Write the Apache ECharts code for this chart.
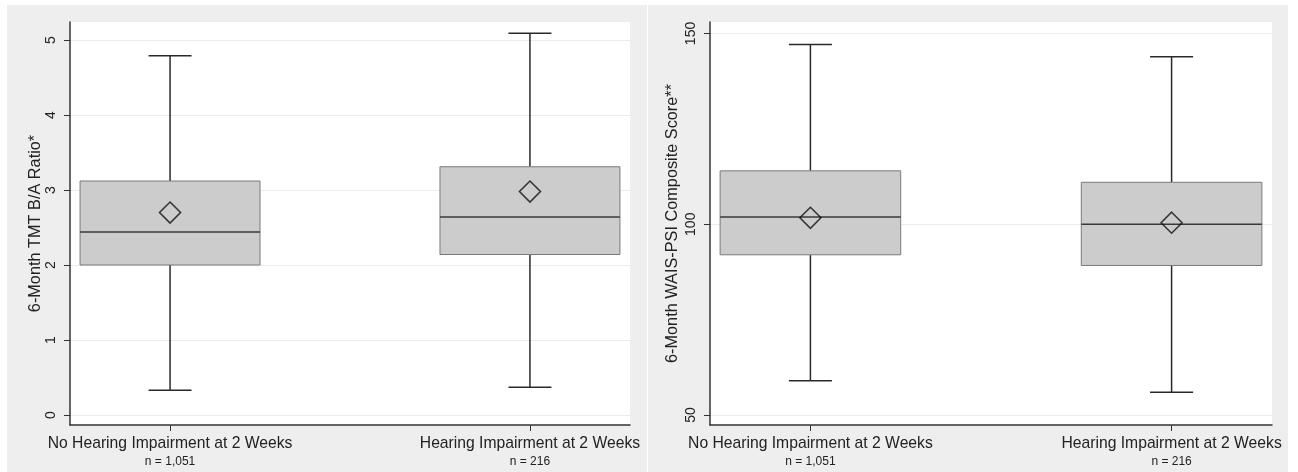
<!DOCTYPE html>
<html>
<head>
<meta charset="utf-8">
<script src="https://cdn.jsdelivr.net/npm/echarts@6/dist/echarts.min.js"></script>
<style>
html, body { margin: 0; padding: 0; background: #ffffff; }
#chart { width: 1298px; height: 472px; }
</style>
</head>
<body>
<div id="chart"></div>
<script>
// groups on the x axis (0 = no impairment, 1 = impairment)
var groups = ['No Hearing Impairment at 2 Weeks', 'Hearing Impairment at 2 Weeks'];
var groupN = ['n = 1,051', 'n = 216'];
var groupPos = [0, 1];

// left panel: 6-month TMT B/A ratio
var tmtMin = [0.33, 0.37];
var tmtQ1 = [2.00, 2.14];
var tmtMedian = [2.44, 2.64];
var tmtQ3 = [3.12, 3.31];
var tmtMax = [4.79, 5.09];
var tmtMean = [2.70, 2.98];
var tmtTicks = [0, 1, 2, 3, 4, 5];

// right panel: 6-month WAIS-PSI composite score
var waisMin = [59, 56];
var waisQ1 = [92, 89.2];
var waisMedian = [101.9, 100];
var waisQ3 = [114, 111];
var waisMax = [147.1, 143.9];
var waisMean = [101.7, 100.4];
var waisTicks = [50, 100, 150];

var textColor = '#222';
var boxFill = '#cccccc';
var font = 'Liberation Sans, Arial, sans-serif';

function boxRows(mn, q1, med, q3, mx) {
	var rows = [];
	for (var i = 0; i < groupPos.length; i++) {
		rows.push([groupPos[i], mn[i], q1[i], med[i], q3[i], mx[i]]);
	}
	return rows;
}
function meanRows(mean) {
	var rows = [];
	for (var i = 0; i < groupPos.length; i++) {
		rows.push([groupPos[i], mean[i]]);
	}
	return rows;
}

// box + whiskers with short caps, like the Stata graph
function renderBox(params, api) {
	var x = api.value(0);
	var pMin = api.coord([x, api.value(1)]);
	var pQ1 = api.coord([x, api.value(2)]);
	var pMed = api.coord([x, api.value(3)]);
	var pQ3 = api.coord([x, api.value(4)]);
	var pMax = api.coord([x, api.value(5)]);
	var half = api.size([0.5, 0])[0] / 2;
	var cap = 21.5;
	var cx = pMed[0];
	var lineStyle = { stroke: '#2a2a2a', lineWidth: 1.5 };
	return {
		type: 'group',
		children: [
			{ type: 'line', shape: { x1: cx, y1: pMax[1], x2: cx, y2: pQ3[1] }, style: lineStyle },
			{ type: 'line', shape: { x1: cx, y1: pQ1[1], x2: cx, y2: pMin[1] }, style: lineStyle },
			{ type: 'line', shape: { x1: cx - cap, y1: pMax[1], x2: cx + cap, y2: pMax[1] }, style: lineStyle },
			{ type: 'line', shape: { x1: cx - cap, y1: pMin[1], x2: cx + cap, y2: pMin[1] }, style: lineStyle },
			{ type: 'rect', shape: { x: cx - half, y: pQ3[1], width: half * 2, height: pQ1[1] - pQ3[1] },
				style: { fill: boxFill, stroke: '#7a7a7a', lineWidth: 1 } },
			{ type: 'line', shape: { x1: cx - half, y1: pMed[1], x2: cx + half, y2: pMed[1] },
				style: { stroke: '#3a3a3a', lineWidth: 1.5 } }
		]
	};
}

function xAxisFor(gridIndex) {
	return {
		type: 'value',
		gridIndex: gridIndex,
		min: -0.278,
		max: 1.278,
		axisLine: { show: true, onZero: false, lineStyle: { color: '#333', width: 1.5 } },
		axisTick: { show: true, customValues: groupPos, length: 6, lineStyle: { color: '#333', width: 1 } },
		splitLine: { show: false },
		axisLabel: {
			customValues: groupPos,
			margin: 9,
			formatter: function (v) {
				return '{a|' + groups[v] + '}\n{b|' + groupN[v] + '}';
			},
			rich: {
				a: { fontFamily: font, fontSize: 15.7, color: textColor, lineHeight: 19 },
				b: { fontFamily: font, fontSize: 12, color: textColor, lineHeight: 18 }
			}
		}
	};
}

function yAxisFor(gridIndex, name, min, max, ticks, gap) {
	return {
		type: 'value',
		gridIndex: gridIndex,
		name: name,
		nameLocation: 'middle',
		nameGap: gap,
		nameTextStyle: { fontFamily: font, fontSize: 16.3, color: textColor },
		min: min,
		max: max,
		axisLine: { show: true, onZero: false, lineStyle: { color: '#333', width: 1.5 } },
		axisTick: { show: true, customValues: ticks, length: 6, lineStyle: { color: '#333', width: 1 } },
		axisLabel: {
			customValues: ticks,
			rotate: 90,
			margin: 12,
			fontFamily: font,
			fontSize: 14,
			color: textColor
		},
		splitLine: { show: true, lineStyle: { color: '#ebebeb', width: 1 } }
	};
}

var dom = document.getElementById('chart');
var myChart = echarts.init(dom, null, { renderer: 'canvas' });

var option = {
	animation: false,
	backgroundColor: '#ffffff',
	graphic: [
		{ type: 'rect', z: -10, shape: { x: 7, y: 5, width: 640, height: 467 }, style: { fill: '#eeeeee' } },
		{ type: 'rect', z: -10, shape: { x: 648, y: 5, width: 640, height: 467 }, style: { fill: '#eeeeee' } }
	],
	grid: [
		{ left: 70, top: 22, width: 560, height: 403, show: true, backgroundColor: '#ffffff', borderWidth: 0 },
		{ left: 710, top: 22, width: 562, height: 403, show: true, backgroundColor: '#ffffff', borderWidth: 0 }
	],
	xAxis: [xAxisFor(0), xAxisFor(1)],
	yAxis: [
		yAxisFor(0, '6-Month TMT B/A Ratio*', -0.133, 5.24, tmtTicks, 26),
		yAxisFor(1, '6-Month WAIS-PSI Composite Score**', 47.4, 153, waisTicks, 29)
	],
	series: [
		{
			type: 'custom',
			xAxisIndex: 0,
			yAxisIndex: 0,
			renderItem: renderBox,
			encode: { x: 0, y: [1, 2, 3, 4, 5] },
			data: boxRows(tmtMin, tmtQ1, tmtMedian, tmtQ3, tmtMax)
		},
		{
			type: 'scatter',
			xAxisIndex: 0,
			yAxisIndex: 0,
			symbol: 'diamond',
			symbolSize: 21,
			z: 5,
			itemStyle: { color: 'rgba(0,0,0,0)', borderColor: '#111', borderWidth: 1.6 },
			data: meanRows(tmtMean)
		},
		{
			type: 'custom',
			xAxisIndex: 1,
			yAxisIndex: 1,
			renderItem: renderBox,
			encode: { x: 0, y: [1, 2, 3, 4, 5] },
			data: boxRows(waisMin, waisQ1, waisMedian, waisQ3, waisMax)
		},
		{
			type: 'scatter',
			xAxisIndex: 1,
			yAxisIndex: 1,
			symbol: 'diamond',
			symbolSize: 21,
			z: 5,
			itemStyle: { color: 'rgba(0,0,0,0)', borderColor: '#111', borderWidth: 1.6 },
			data: meanRows(waisMean)
		}
	]
};
myChart.setOption(option);
</script>
</body>
</html>
